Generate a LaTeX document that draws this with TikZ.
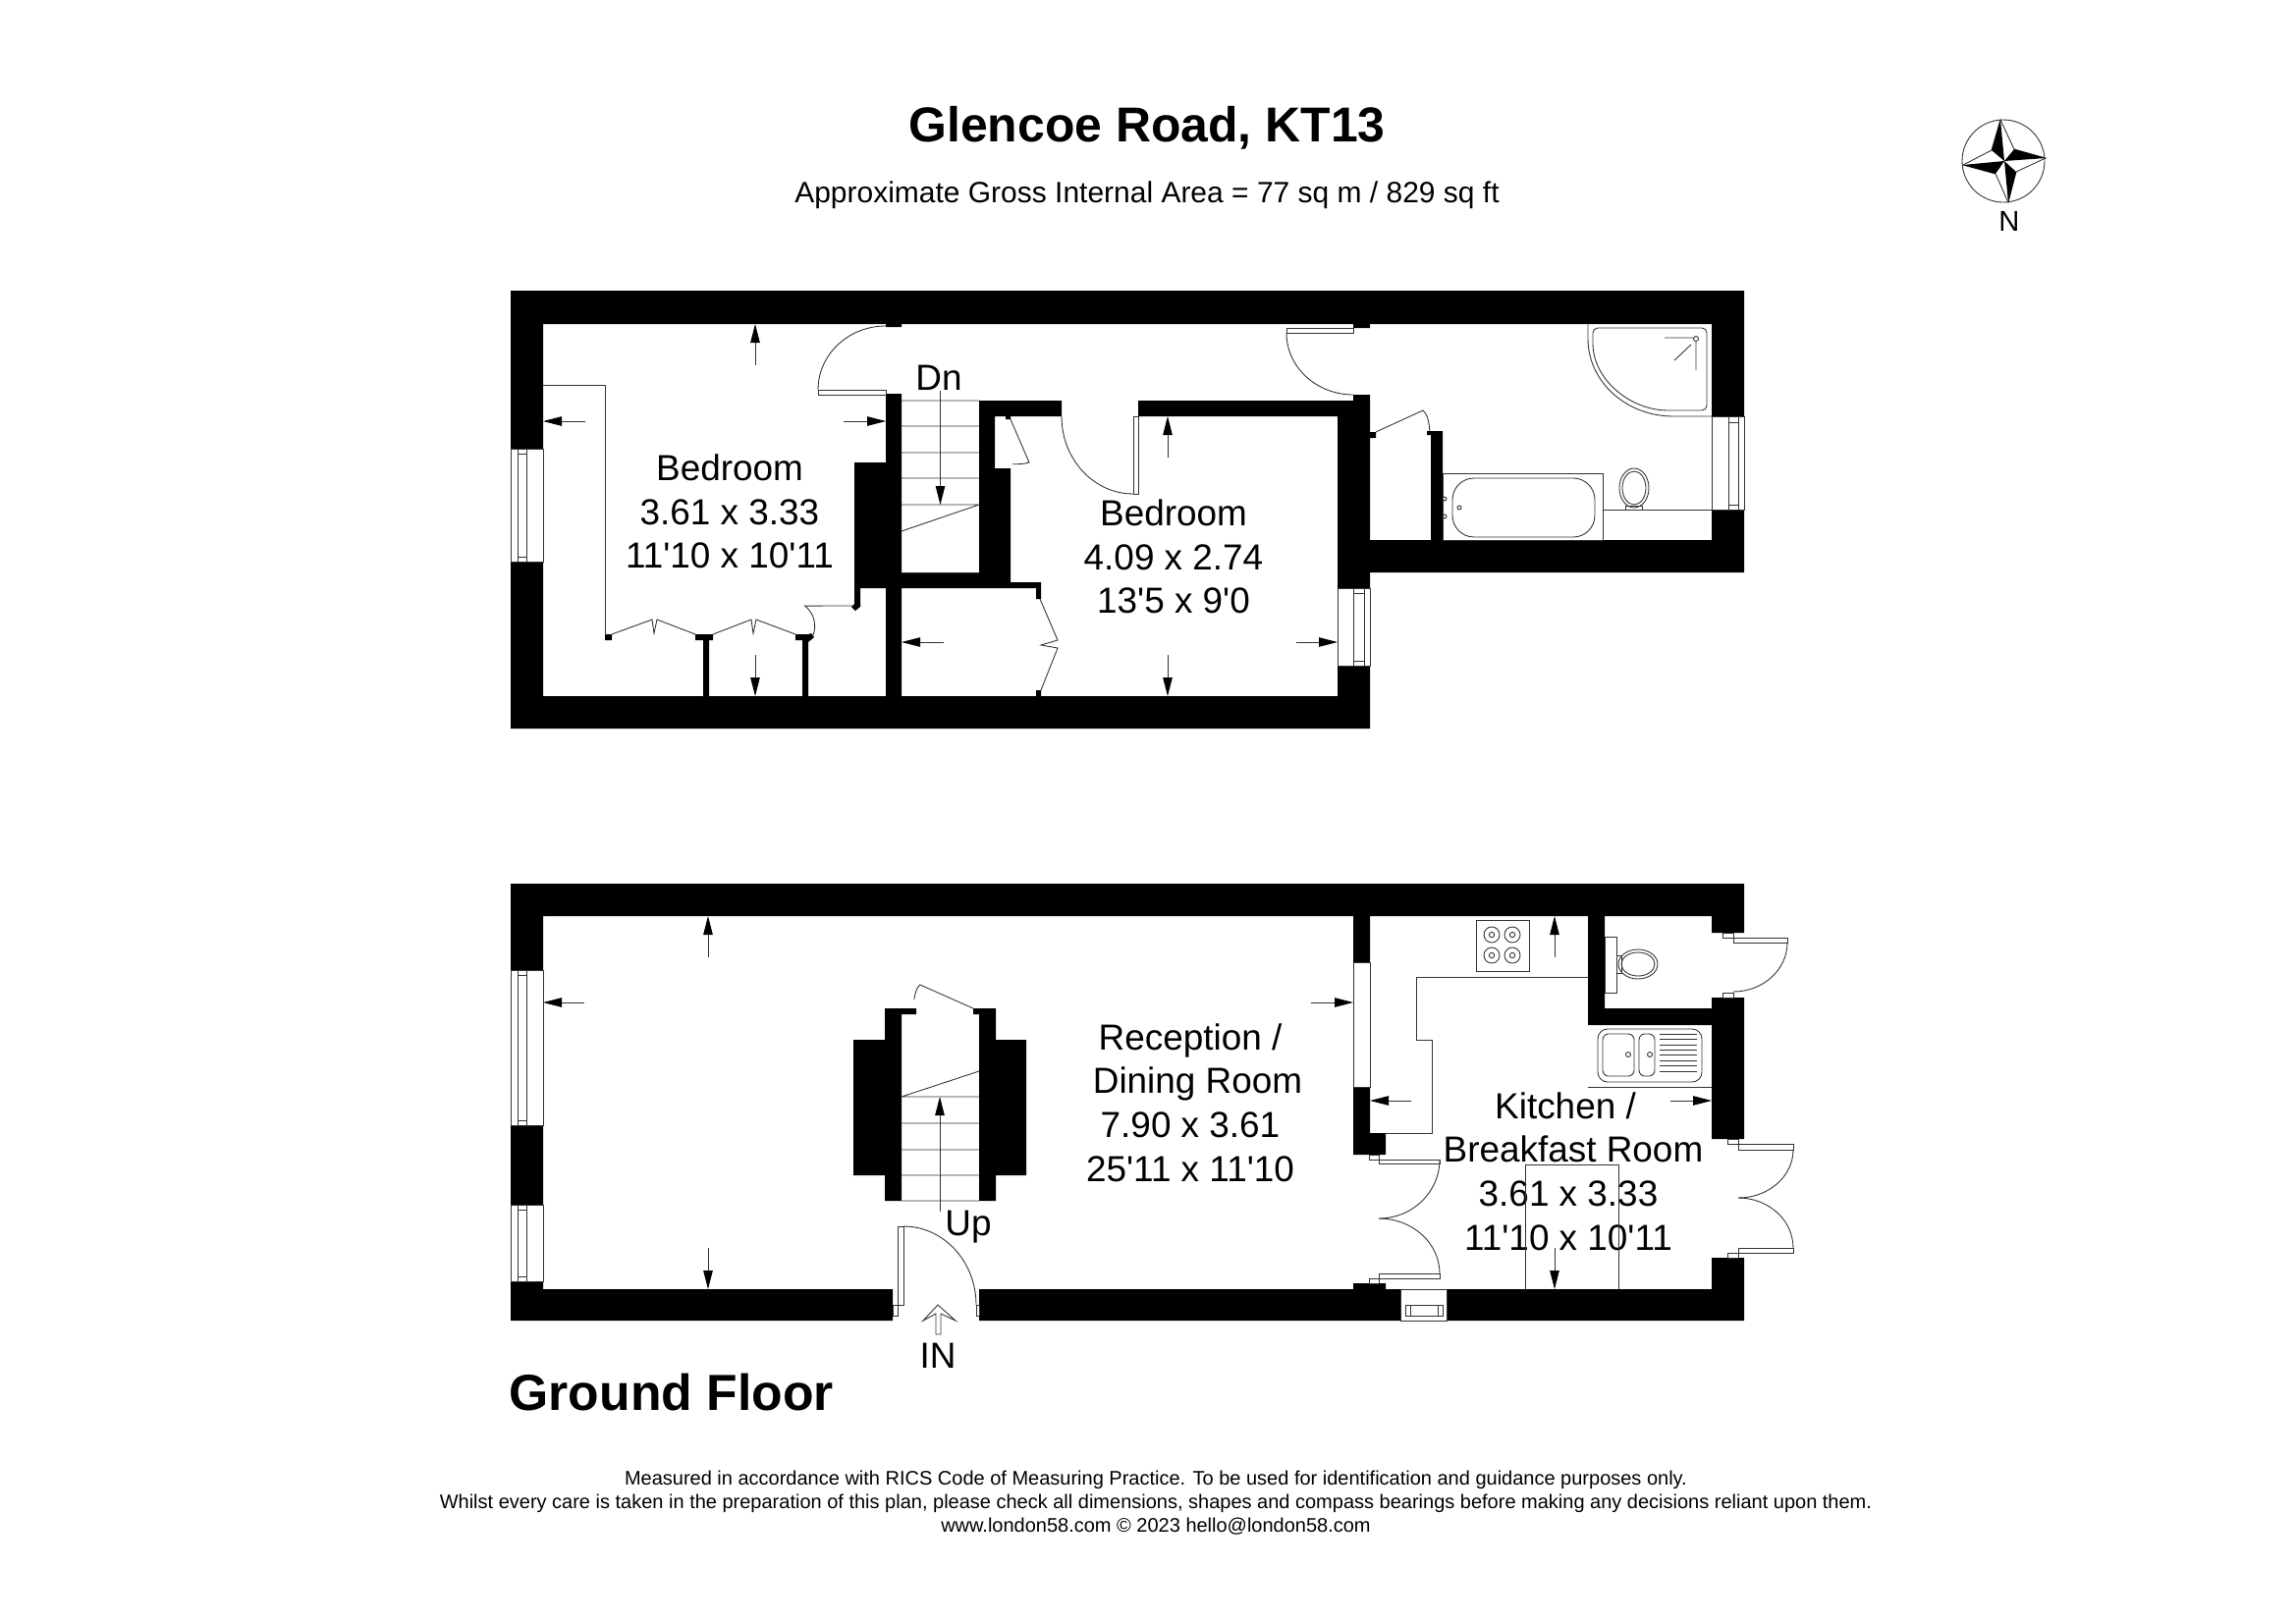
\documentclass[tikz,border=0pt]{standalone}
\usepackage{fontspec}
\setmainfont{Liberation Sans}[Ligatures=TeXOff]
\usetikzlibrary{arrows.meta}

\begin{document}
\begin{tikzpicture}[x=0.1mm,y=-0.1mm,
  wall/.style={fill=black},
  fine/.style={draw=black!80,line width=0.25pt},
  dim/.style={fine,-{Triangle[length=1.9mm,width=0.95mm,color=black,fill=black]}},
  room/.style={font=\fontsize{10.5}{12.7}\selectfont,align=center,inner sep=0pt},
  heading/.style={font=\bfseries\fontsize{14.2}{17}\selectfont,inner sep=0pt}]
\useasboundingbox (0,0) rectangle (2338,1652);

% texts
\node[heading] (title) at (1168,130) {Glencoe Road, KT13};
\node[font=\fontsize{8.53}{11}\selectfont,inner sep=0pt] (subtitle) at (1168,199) {Approximate Gross Internal Area = 77 sq m / 829 sq ft};
\node[heading,font=\bfseries\fontsize{14.7}{17}\selectfont,anchor=west] (groundfloor) at (518,1418) {Ground Floor};
\node[font=\fontsize{5.69}{6.83}\selectfont,align=center,inner sep=0pt] (footer) at (1177,1531) {Measured in accordance with RICS Code of Measuring Practice. To be used for identification and guidance purposes only.\\Whilst every care is taken in the preparation of this plan, please check all dimensions, shapes and compass bearings before making any decisions reliant upon them.\\www.london58.com © 2023 hello@london58.com};
\node[room] (bedroomA) at (743,521) {Bedroom\\3.61 x 3.33\\11'10 x 10'11};
\node[room] (bedroomB) at (1195,567) {Bedroom\\4.09 x 2.74\\13'5 x 9'0};
\node[room] (reception) at (1212,1123) {Reception /\\\hspace*{1.5mm}Dining Room\\7.90 x 3.61\\25'11 x 11'10};
\node[room] (kitchen) at (1597,1193) {Kitchen /\hspace*{0.6mm}\\\hspace*{1mm}Breakfast Room\\3.61 x 3.33\\11'10 x 10'11};
\node[room] (dn) at (956,385) {Dn};
\node[room] (up) at (986,1250) {Up};
\node[room] (in) at (955,1381) {IN};
\node[font=\fontsize{8.3}{10}\selectfont,inner sep=0pt] (north) at (2046,225) {N};

% first floor walls
\fill[wall] (520,296) rectangle (1776,330)
  (520,330) rectangle (553,457) (520,572) rectangle (553,709)
  (520,709) rectangle (1395,742)
  (1743,330) rectangle (1776,424) (1743,519) rectangle (1776,583)
  (1395,550) rectangle (1743,583)
  (1362,408) rectangle (1395,599) (1362,678) rectangle (1395,709)
  (1378,402) rectangle (1395,408) (1378,330) rectangle (1395,334)
  (1159,408) rectangle (1362,424) (997,408) rectangle (1081,424)
  (997,424) rectangle (1013,593) (1013,477) rectangle (1029,593)
  (1024,424) rectangle (1029,427)
  (918,583) rectangle (1029,599) (1029,593) rectangle (1060,599)
  (1055,599) rectangle (1060,610) (1055,703) rectangle (1060,709)
  (902,401) rectangle (918,709) (902,330) rectangle (918,333)
  (870,471) rectangle (902,599) (870,599) rectangle (876,618)
  (1457,439) rectangle (1469,550) (1453,439) rectangle (1457,443)
  (1395,440) rectangle (1401,446)
  (616,646) rectangle (623,652)
  (708,646) rectangle (726,652) (716,652) rectangle (722,709)
  (810,646) rectangle (823,652) (817,652) rectangle (823,709);
\fill[wall] (867,618) -- (871,614) -- (876,614) -- (876,618) -- (871,622) -- cycle;
\fill[wall] (823,646) -- (826,645) -- (829,649) -- (823,654) -- cycle;

% first floor windows
\draw[fine] (520,457) rectangle (553,572) (527,457) rectangle (536,572)
  (527,462) -- (536,462) (527,567) -- (536,567);
\draw[fine] (1743,424) rectangle (1776,519) (1760,424) rectangle (1770,519)
  (1760,430) -- (1770,430) (1760,514) -- (1770,514);
\draw[fine] (1362,599) rectangle (1395,678) (1378,599) rectangle (1389,678)
  (1378,604) -- (1389,604) (1378,673) -- (1389,673);

% first floor doors
\draw[fine] (902,332) arc[start angle=270,end angle=180,x radius=69,y radius=65];
\draw[fine] (833,397) rectangle (902,402);
\draw[fine] (1310,339) arc[start angle=180,end angle=90,x radius=68,y radius=63];
\draw[fine] (1310,334) rectangle (1378,339);
\draw[fine] (1081,424) arc[start angle=180,end angle=90,x radius=73,y radius=79];
\draw[fine] (1154,424) rectangle (1159,503);
\draw[fine] (1401,440) -- (1449,418) arc[start angle=-70,end angle=0,x radius=10,y radius=22];
\draw[fine] (1029,427) -- (1048,471) arc[start angle=45,end angle=100,x radius=19,y radius=6];

% wardrobe and cupboard
\draw[fine] (553,392) -- (616,392) -- (616,647);
\draw[fine] (623,646) -- (664,631) -- (666,645) -- (669,631) -- (708,646);
\draw[fine] (726,646) -- (765,631) -- (767,645) -- (770,631) -- (810,646);
\draw[fine] (828,647) arc[start angle=20,end angle=-50,x radius=28,y radius=27] -- (868,617);
\draw[fine] (1059,610) -- (1077,652) -- (1060,657) -- (1077,660) -- (1060,703);

% first floor stairs
\draw[fine] (918,408) -- (997,408) (918,434) -- (997,434) (918,461) -- (997,461)
  (918,487) -- (997,487) (918,514) -- (997,514) (918,541) -- (997,514);
\draw[fine] (918,583) -- (997,583);
\draw[dim] (957.5,398) -- (957.5,514);

% bathroom
\draw[fine] (1469,482) rectangle (1632,550);
\draw[fine,rounded corners=2.2mm] (1479,487) rectangle (1624,547);
\draw[fine] (1471,508) circle (2) (1471,526) circle (2) (1486,517) circle (2);
\draw[fine] (1632,519) -- (1743,519);
\draw[fine] (1664,497) ellipse [x radius=15,y radius=20];
\draw[fine] (1664,497) ellipse [x radius=12,y radius=17];
\draw[fine] (1655,515) rectangle (1672,519);
\draw[fine] (1617,330) -- (1617,345) arc[start angle=180,end angle=90,x radius=87,y radius=79] -- (1743,424);
\draw[fine,rounded corners=0.5mm] (1622,345) arc[start angle=180,end angle=90,x radius=82,y radius=73] -- (1738,418) -- (1738,334) -- (1622,334) -- cycle;
\draw[fine] (1727,345) circle (2.5) (1695,344) -- (1724,344) (1727,348) -- (1727,377) (1705,367) -- (1722,351);

% first floor sizes
\draw[dim] (769,372) -- (769,330);
\draw[dim] (596,429) -- (553,429);
\draw[dim] (859,429) -- (902,429);
\draw[dim] (769,667) -- (769,709);
\draw[dim] (1189,466) -- (1189,424);
\draw[dim] (1189,667) -- (1189,709);
\draw[dim] (961,654) -- (918,654);
\draw[dim] (1320,654) -- (1362,654);

% ground floor walls
\fill[wall] (520,900) rectangle (1776,933)
  (520,933) rectangle (553,988) (520,1146) rectangle (553,1227) (520,1305) rectangle (553,1313)
  (520,1313) rectangle (909,1345) (997,1313) rectangle (1426,1345) (1473,1313) rectangle (1776,1345)
  (1743,933) rectangle (1776,950) (1743,1016) rectangle (1776,1160) (1743,1281) rectangle (1776,1313)
  (1617,933) rectangle (1634,1027) (1617,1027) rectangle (1743,1044)
  (1378,933) rectangle (1395,980) (1378,1107) rectangle (1395,1176) (1395,1154) rectangle (1411,1176)
  (1378,1307) rectangle (1411,1313)
  (869,1059) rectangle (901,1197) (901,1027) rectangle (918,1223)
  (1014,1059) rectangle (1045,1197) (997,1027) rectangle (1014,1223)
  (918,1027) rectangle (933,1033) (991,1027) rectangle (997,1033);

% ground floor windows
\draw[fine] (520,988) rectangle (553,1146) (527,988) rectangle (536,1146)
  (527,993) -- (536,993) (527,1141) -- (536,1141);
\draw[fine] (520,1227) rectangle (553,1305) (527,1227) rectangle (536,1305)
  (527,1232) -- (536,1232) (527,1300) -- (536,1300);
\draw[fine] (1378,980) rectangle (1395,1107);
\draw[fine] (1426,1313) rectangle (1473,1345) (1431,1329) rectangle (1469,1340)
  (1436,1329) -- (1436,1340) (1464,1329) -- (1464,1340);

% ground floor doors
\draw[fine] (920,1249) arc[start angle=270,end angle=360,x radius=74,y radius=80];
\draw[fine] (914,1249) rectangle (920,1329) (909,1329) rectangle (914,1340) (994,1329) rectangle (997,1340);
\draw[fine] (1466,1181) arc[start angle=0,end angle=90,x radius=62,y radius=60];
\draw[fine] (1404,1241) arc[start angle=270,end angle=360,x radius=62,y radius=56];
\draw[fine] (1404,1181) rectangle (1466,1185) (1394,1176) rectangle (1404,1181);
\draw[fine] (1404,1297) rectangle (1466,1302) (1394,1302) rectangle (1404,1307);
\draw[fine] (1820,960) arc[start angle=0,end angle=90,x radius=55,y radius=50];
\draw[fine] (1765,955) rectangle (1820,960) (1754,950) rectangle (1765,955) (1754,1011) rectangle (1765,1016);
\draw[fine] (1826,1171) arc[start angle=0,end angle=90,x radius=56,y radius=49];
\draw[fine] (1770,1220) arc[start angle=270,end angle=360,x radius=56,y radius=51];
\draw[fine] (1770,1165) rectangle (1826,1171) (1759,1160) rectangle (1770,1165);
\draw[fine] (1770,1271) rectangle (1826,1276) (1759,1276) rectangle (1770,1281);
\draw[fine] (991,1027) -- (937,1003) arc[start angle=-100,end angle=-160,x radius=8,y radius=24];

% ground floor stairs
\draw[fine] (918,1117) -- (997,1117) (918,1144) -- (997,1144) (918,1171) -- (997,1171)
  (918,1197) -- (997,1197) (918,1223) -- (997,1223) (918,1117) -- (997,1091);
\draw[dim] (957,1234) -- (957,1117);
\draw[fine,fill=white] (955,1329) -- (973,1345) -- (958,1338) -- (958,1359) -- (953,1359) -- (953,1338) -- (940,1345) -- cycle;

% kitchen and cloakroom
\draw[fine] (1442,995) -- (1617,995) (1442,995) -- (1442,1059) -- (1458,1059) -- (1458,1154) -- (1411,1154);
\draw[fine] (1503,937) rectangle (1557,989);
\draw[fine] (1519,952) circle (8) (1519,952) circle (2.7) (1540,952) circle (8) (1540,952) circle (2.7);
\draw[fine] (1519,973) circle (8) (1519,973) circle (2.7) (1540,973) circle (8) (1540,973) circle (2.7);
\draw[fine] (1634,954) rectangle (1646,1011) (1646,973) rectangle (1651,991);
\draw[fine] (1668,982) ellipse [x radius=20,y radius=15];
\draw[fine] (1668,982) ellipse [x radius=17,y radius=12];
\draw[fine,rounded corners=1mm] (1627,1048) rectangle (1733,1102);
\draw[fine,rounded corners=0.6mm] (1632,1053) rectangle (1664,1096) (1669,1053) rectangle (1685,1096);
\draw[fine] (1658,1074) circle (2.5) (1680,1074) circle (2.5);
\draw[fine] (1690,1053) -- (1728,1053) (1690,1058) -- (1728,1058) (1690,1064) -- (1728,1064) (1690,1069) -- (1728,1069)
  (1690,1074) -- (1728,1074) (1690,1080) -- (1728,1080) (1690,1085) -- (1728,1085) (1690,1091) -- (1728,1091);
\draw[fine] (1617,1107) -- (1743,1107);
\draw[fine] (1553,1313) -- (1553,1186) -- (1648,1186) -- (1648,1313);

% ground floor sizes
\draw[dim] (721,975) -- (721,933);
\draw[dim] (721,1271) -- (721,1313);
\draw[dim] (595,1021) -- (553,1021);
\draw[dim] (1335,1021) -- (1378,1021);
\draw[dim] (1583,975) -- (1583,933);
\draw[dim] (1583,1271) -- (1583,1313);
\draw[dim] (1437,1121) -- (1395,1121);
\draw[dim] (1701,1121) -- (1743,1121);

% compass
\draw[fine] (2040,164) circle (42);
\draw[fine] (2037,122) -- (2051,152) -- (2083,161) -- (2053,175) -- (2045,206) -- (2032,177) -- (1999,168) -- (2028,153) -- cycle;
\fill[wall] (2037,122) -- (2028,153) -- (2041,164) -- cycle;
\fill[wall] (2083,161) -- (2051,152) -- (2041,164) -- cycle;
\fill[wall] (2045,206) -- (2053,175) -- (2041,164) -- cycle;
\fill[wall] (1999,168) -- (2032,177) -- (2041,164) -- cycle;
\end{tikzpicture}
\end{document}
